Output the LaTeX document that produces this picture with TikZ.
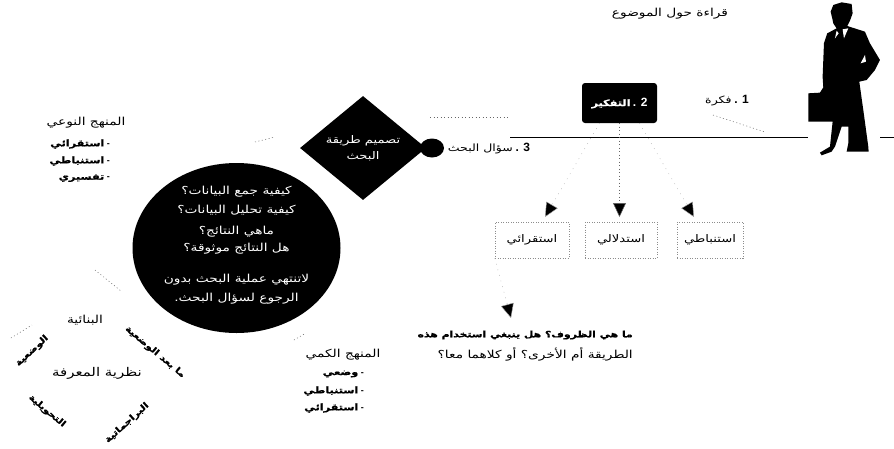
\documentclass[tikz,border=0pt]{standalone}
\usepackage{fontspec}
\usetikzlibrary{shapes.geometric,arrows.meta}
\setmainfont{Liberation Sans}
\newfontfamily\arabicfont[Script=Arabic,FakeStretch=1.25,BoldFeatures={FakeBold=0.8}]{DejaVu Sans}
\TeXXeTstate=1
\newcommand{\ar}[1]{{\arabicfont\beginR #1\endR}}
\newcommand{\dg}[1]{{\fontsize{12}{10}\selectfont\bfseries #1}}
\tikzset{
  lbl/.style={inner sep=0pt,font=\fontsize{11}{10}\selectfont},
  blbl/.style={inner sep=0pt,font=\fontsize{9}{10}\selectfont\bfseries},
  rlbl/.style={inner sep=0pt,font=\fontsize{8.5}{10}\selectfont\bfseries},
  faint/.style={draw=black!60,line width=0.5pt,dash pattern=on 1pt off 2.5pt},
  vfaint/.style={draw=black!35,line width=0.4pt,dash pattern=on 0.8pt off 5pt},
  mainline/.style={draw=black,line width=1pt},
  box/.style={draw=black!45,line width=0.5pt,dash pattern=on 1pt off 1.5pt,minimum height=36pt,inner sep=0pt,font=\fontsize{10.5}{10}\selectfont},
  headtip/.style={-{Triangle[length=14pt,width=13pt,fill=black]}},
}
\begin{document}
\begin{tikzpicture}[x=1pt,y=-1pt]
\useasboundingbox (0,0) rectangle (894,448);
\fill[white] (0,0) rectangle (894,448);

% main line
\coordinate (la) at (510,137);
\coordinate (lb) at (808,137);
\coordinate (lc) at (880,137);
\coordinate (ld) at (894,137);
\coordinate (da) at (430,117);
\coordinate (db) at (510,117);
\draw[mainline] (la) -- (lb);
\draw[mainline] (lc) -- (ld);
\draw[faint] (da) -- (db);

% figure
\begin{scope}[shift={(420,0)},x=0.3333pt,y=-0.3333pt]
\fill[black] (1238,60) -- (1232,35) -- (1240,15) -- (1265,7) -- (1295,12) -- (1298,40) -- (1290,62) -- (1282,78)
 -- (1335,95) -- (1350,130) -- (1380,180) -- (1365,210) -- (1340,240) -- (1318,245) -- (1330,330) -- (1345,440)
 -- (1346,455) -- (1280,455) -- (1285,430) -- (1285,380) -- (1265,380) -- (1245,440) -- (1235,455) -- (1205,466)
 -- (1200,458) -- (1230,440) -- (1238,365) -- (1165,365) -- (1165,280) -- (1200,278) -- (1210,262) -- (1208,230)
 -- (1212,130) -- (1222,100) -- (1250,85) -- (1240,70) -- cycle;
\fill[white] (1335,165) -- (1322,190) -- (1338,185) -- cycle;
\fill[white] (1268,88) -- (1272,115) -- (1285,85) -- cycle;
\fill[white] (1250,92) -- (1245,115) -- (1256,100) -- cycle;
\end{scope}

% top labels
\node[lbl] (read) at (670,14) {\ar{قراءة حول الموضوع}};
\node[inner sep=0pt,font=\fontsize{10}{10}\selectfont] (one) at (727,101) {\ar{فكرة} \dg{. 1}};
\node[fill=black,text=white,minimum width=75pt,minimum height=40pt,inner sep=0pt,rounded corners=3pt,font=\fontsize{9}{10}\selectfont\bfseries] (two) at (619.5,103) {\ar{التفكير} \dg{. 2}};
\node[inner sep=0pt,font=\fontsize{10}{10}\selectfont] (three) at (489,149) {\ar{سؤال البحث} \dg{. 3}};

% diamond and knob
\node[diamond,fill=black,text=white,minimum width=126pt,minimum height=104pt,inner sep=0pt,align=center,font=\fontsize{10.5}{16}\selectfont] (design) at (363,148) {\ar{تصميم طريقة}\\\ar{البحث}};
\node[ellipse,fill=black,minimum width=24pt,minimum height=19pt,inner sep=0pt] (knob) at (432,148) {};

% central ellipse
\node[ellipse,fill=black,minimum width=208pt,minimum height=170pt,inner sep=0pt] (core) at (236.5,248) {};
\node[text=white,inner sep=0pt,align=center,font=\fontsize{11}{10}\selectfont] (coretext) at ([yshift=3pt]core.center) {%
\ar{كيفية جمع البيانات؟}\\[7.5pt]
\ar{كيفية تحليل البيانات؟}\\[9.5pt]
\ar{ماهي النتائج؟}\\[5.5pt]
\ar{هل النتائج موثوقة؟}\\[19pt]
\ar{لاتنتهي عملية البحث بدون}\\[6.5pt]
\ar{الرجوع لسؤال البحث.}};

% qualitative list
\node[lbl] (qualt) at (86,123) {\ar{المنهج النوعي}};
\node[blbl,anchor=east] (qual1) at (110,144) {\ar{استقرائي} -};
\node[blbl,anchor=east] (qual2) at (110,161) {\ar{استنباطي} -};
\node[blbl,anchor=east] (qual3) at (110,178) {\ar{تفسيري} -};

% quantitative list
\node[lbl] (quant) at (343,355) {\ar{المنهج الكمي}};
\node[blbl,anchor=east] (quan1) at (364,374) {\ar{وضعي} -};
\node[blbl,anchor=east] (quan2) at (364,391) {\ar{استنباطي} -};
\node[blbl,anchor=east] (quan3) at (364,408) {\ar{استقرائي} -};

% boxes
\node[box,minimum width=74pt] (b1) at (532,240) {\ar{استقرائي}};
\node[box,minimum width=72pt] (b2) at (621,240) {\ar{استدلالي}};
\node[box,minimum width=66pt] (b3) at (710,240) {\ar{استنباطي}};

% arrows
\coordinate (t1) at (545,217);
\coordinate (t2) at (619,217);
\coordinate (t3) at (694,217);
\coordinate (t4) at (511,318);
\draw[faint,headtip] (two.south) -- (two.south |- t2);
\draw[vfaint,headtip] ([xshift=20pt]two.south) -- (t3);
\draw[vfaint,headtip] ([xshift=-20pt]two.south) -- (t1);
\draw[vfaint,headtip] (b1.south west) -- (t4);

% question
\node[inner sep=0pt,font=\fontsize{8.7}{10}\selectfont\bfseries,anchor=east] (q1) at (633,335) {\ar{ما هي الظروف؟ هل ينبغي استخدام هذه}};
\node[lbl,anchor=east] (q2) at (633,354) {\ar{الطريقة أم الأخرى؟ أو كلاهما معا؟}};

% epistemology
\node[inner sep=0pt,font=\fontsize{12}{12}\selectfont] (epi) at (97,373) {\ar{نظرية المعرفة}};
\node[lbl] (ep0) at (85,320) {\ar{البنائية}};
\node[rlbl,rotate=-40] (ep1) at (155,352) {\ar{ما بعد الوضعية}};
\node[rlbl,rotate=43] (ep2) at (32,351) {\ar{الوضعية}};
\node[rlbl,rotate=-40] (ep3) at (47,411) {\ar{التحويلية}};
\node[rlbl,rotate=42] (ep4) at (127,423) {\ar{البراجماتية}};

% faint connector traces
\coordinate (f1a) at (255,142); \coordinate (f1b) at (275,137);
\coordinate (f2a) at (95,270);  \coordinate (f2b) at (121,291);
\coordinate (f3a) at (294,340); \coordinate (f3b) at (306,333);
\coordinate (f4a) at (11,338);  \coordinate (f4b) at (32,325);
\coordinate (f5a) at (713,115); \coordinate (f5b) at (765,132);
\draw[faint] (f1a) -- (f1b);
\draw[faint] (f2a) -- (f2b);
\draw[faint] (f3a) -- (f3b);
\draw[faint] (f4a) -- (f4b);
\draw[faint] (f5a) -- (f5b);
\end{tikzpicture}
\end{document}
